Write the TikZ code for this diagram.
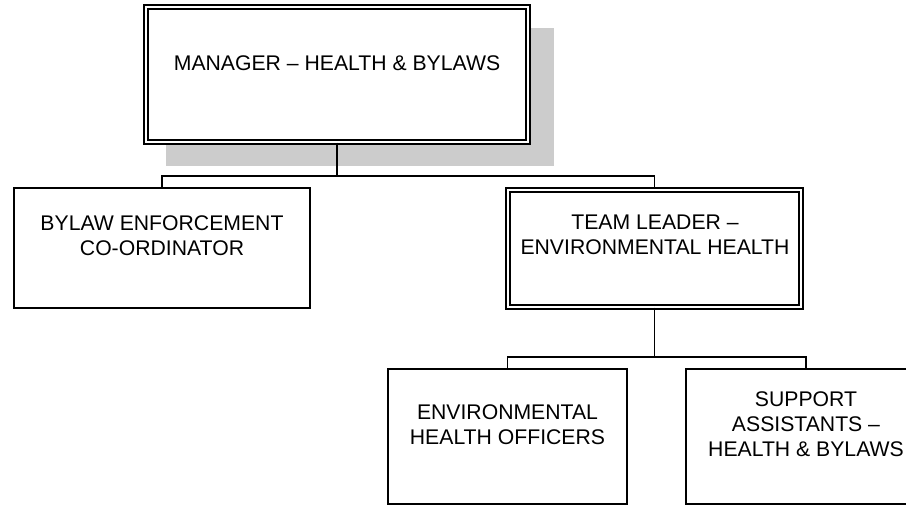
\documentclass[tikz,border=0pt]{standalone}
\usepackage{fontspec}
\setmainfont{Liberation Sans}
\definecolor{shadowgray}{HTML}{CCCCCC}
\begin{document}
\begin{tikzpicture}[x=1pt,y=-1pt,
  box/.style={draw=black, fill=white, line width=1.5pt, inner sep=0pt, rectangle},
  openbox/.style={inner sep=0pt, rectangle},
  dbox/.style={draw=black, fill=white, line width=1.2pt, double=white, double distance=2.8pt, inner sep=0pt, rectangle},
  txt/.style={inner sep=0pt, align=center, anchor=north, font=\fontsize{21.2pt}{25pt}\selectfont},
  conn/.style={draw=black, line width=1.5pt}
]
\useasboundingbox (0,0) rectangle (907,505);
% shadow
\fill[shadowgray] (166,28) rectangle (554,166);
% boxes
\node[dbox, minimum width=382pt, minimum height=135pt] (mgr) at (337,74.5) {};
\node[box, minimum width=296pt, minimum height=120pt] (bylaw) at (162,248) {};
\node[dbox, minimum width=293pt, minimum height=117pt] (tl) at (654.5,248.5) {};
\node[box, minimum width=239pt, minimum height=135pt] (eho) at (507.5,436.5) {};
\node[openbox, minimum width=220pt, minimum height=135pt] (sup) at (796,436.5) {};
\draw[conn] (sup.north east) -- (sup.north west) -- (sup.south west) -- (sup.south east);
% texts
\node[txt] (mgrT) at (337,55.3) {MANAGER – HEALTH \& BYLAWS};
\node[txt] (bylawT) at (162,215.3) {BYLAW ENFORCEMENT\\CO-ORDINATOR};
\node[txt] (tlT) at (655,214.3) {TEAM LEADER –\\ENVIRONMENTAL HEALTH};
\node[txt] (ehoT) at (507.5,404.3) {ENVIRONMENTAL\\HEALTH OFFICERS};
\node[txt] (supT) at (806,391.3) {SUPPORT\\ASSISTANTS –\\HEALTH \& BYLAWS};
% connectors
\coordinate (busA) at (337,176);
\coordinate (busB) at (654.5,357);
\draw[conn] (mgr.south) -- (busA);
\draw[conn] (bylaw.north) |- (busA) -| (tl.north);
\draw[conn] (tl.south) -- (busB);
\draw[conn] (eho.north) |- (busB) -| (supT |- sup.north);
\end{tikzpicture}
\end{document}
